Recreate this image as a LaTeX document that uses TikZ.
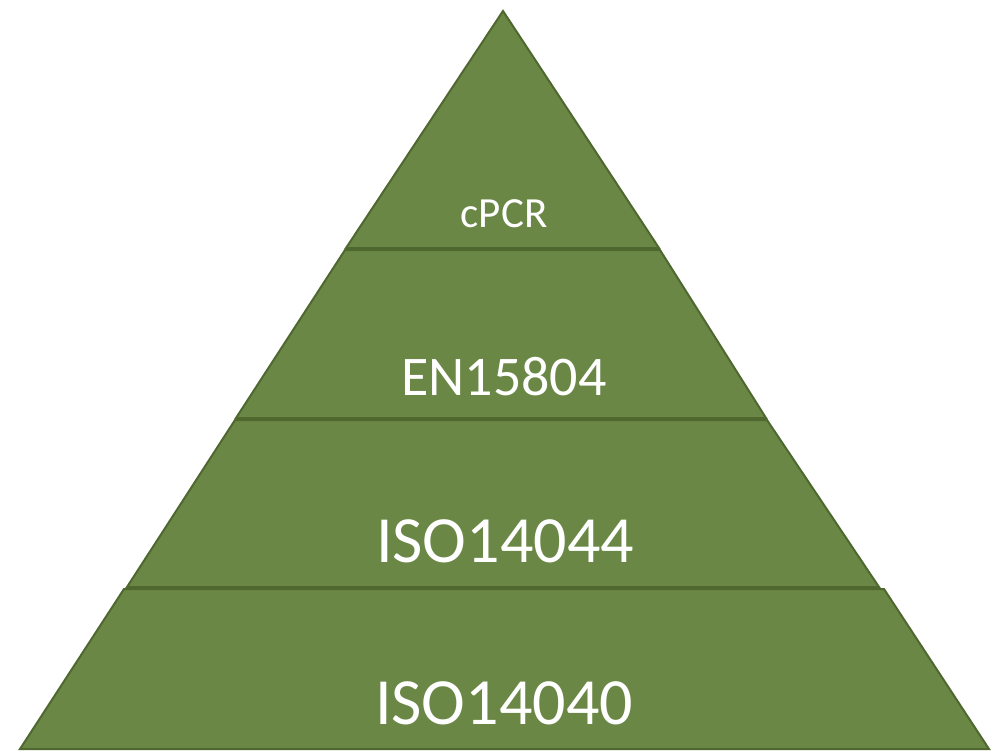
\documentclass[tikz,border=0pt]{standalone}
\usepackage{fontspec}
\setmainfont{Carlito}
\definecolor{layergreen}{RGB}{106,135,69}
\definecolor{layeredge}{RGB}{78,104,48}
\tikzset{
    layer/.style = {draw=layeredge, fill=layergreen, line width=2pt, line join=miter},
    tag/.style = {text=white, inner sep=0pt, anchor=base}
}
\begin{document}
\begin{tikzpicture}[x=1pt,y=-1pt]
            \useasboundingbox (0,0) rectangle (993,750);
            % layers, top to bottom
            \draw [layer] (503,11) -- (659,248) -- (346,248) -- cycle;
            \draw [layer] (345,250) -- (660,250) -- (766,418) -- (236,418) -- cycle;
            \draw [layer] (235,420) -- (767,420) -- (879,587) -- (127,587) -- cycle;
            \draw [layer] (124,589) -- (884,589) -- (989,749) -- (20,749) -- cycle;
            % labels
            \node[tag, font=\fontsize{43}{48}\selectfont] (cpcr) at (504,227) {cPCR};
            \node[tag, font=\fontsize{56}{62}\selectfont] (en) at (504,395) {EN15804};
            \node[tag, font=\fontsize{66}{72}\selectfont] (isoa) at (505,562) {ISO14044};
            \node[tag, font=\fontsize{66}{72}\selectfont] (isob) at (504,724) {ISO14040};
        \end{tikzpicture}
\end{document}
